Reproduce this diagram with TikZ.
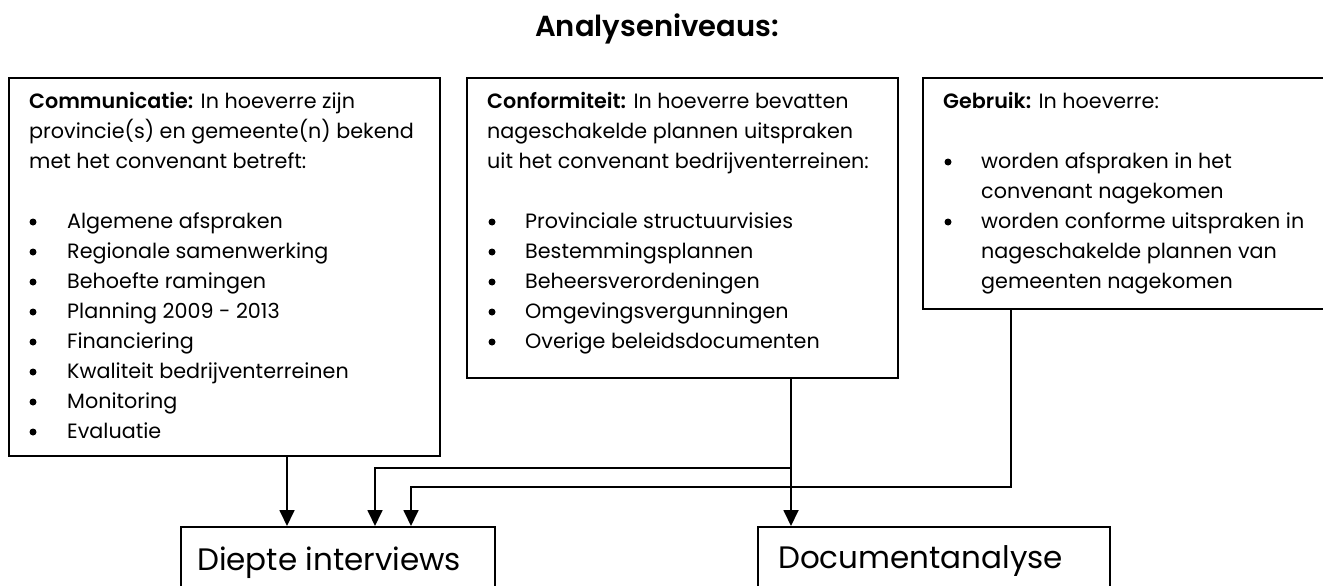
\documentclass[tikz,border=0pt]{standalone}
\usepackage{fontspec}
\setmainfont{Poppins}[BoldFont={Poppins SemiBold}]
\usetikzlibrary{arrows.meta}
\begin{document}
\begin{tikzpicture}[x=1pt,y=-1pt,
  box/.style={draw=black, line width=1.8pt, inner sep=0pt, anchor=north west, fill=white},
  txt/.style={anchor=base west, inner sep=0pt, font=\fontsize{20.7}{30}\selectfont},
  dot/.style={circle, fill=black, inner sep=0pt, minimum size=7pt},
  big/.style={anchor=base west, inner sep=0pt, font=\fontsize{31}{34}\selectfont},
  arr/.style={line width=1.8pt, -{Triangle[length=16pt,width=15pt]}},
  ln/.style={line width=1.8pt}]
\useasboundingbox (0,0) rectangle (1323,586);
% title
\node[anchor=base, inner sep=0pt, font=\fontsize{29}{32}\selectfont\bfseries] (title) at (657,37) {Analyseniveaus:};
% boxes
\node[box, minimum width=431pt, minimum height=378pt] (b1) at (8,77) {};
\node[box, minimum width=431pt, minimum height=300pt] (b2) at (466,77) {};
\node[box, minimum width=402pt, minimum height=231pt] (b3) at (922,77) {};
\node[box, minimum width=314pt, minimum height=70pt] (di) at (180,526) {};
\node[box, minimum width=352pt, minimum height=70pt] (doc) at (757,526) {};
% box 1 text
\node[txt] (b1l1) at (29,108) {\textbf{Communicatie:} In hoeverre zijn};
\node[txt] (b1l2) at (29,138) {provincie(s) en gemeente(n) bekend};
\node[txt] (b1l3) at (29,168) {met het convenant betreft:};
\foreach \t [count=\i from 0] in {Algemene afspraken, Regionale samenwerking, Behoefte ramingen, Planning 2009 - 2013, Financiering, Kwaliteit bedrijventerreinen, Monitoring, Evaluatie}{
  \node[dot] (b1d\i) at (33,222+30*\i) {};
  \node[txt] (b1i\i) at (67,228+30*\i) {\t};
}
% box 2 text
\node[txt] (b2l1) at (487,108) {\textbf{Conformiteit:} In hoeverre bevatten};
\node[txt] (b2l2) at (487,138) {nageschakelde plannen uitspraken};
\node[txt] (b2l3) at (487,168) {uit het convenant bedrijventerreinen:};
\foreach \t [count=\i from 0] in {Provinciale structuurvisies, Bestemmingsplannen, Beheersverordeningen, Omgevingsvergunningen, Overige beleidsdocumenten}{
  \node[dot] (b2d\i) at (492,222+30*\i) {};
  \node[txt] (b2i\i) at (525,228+30*\i) {\t};
}
% box 3 text
\node[txt] (b3l1) at (943,108) {\textbf{Gebruik:} In hoeverre:};
\node[dot] (b3d1) at (948,162) {};
\node[txt] (b3i1) at (981,168) {worden afspraken in het};
\node[txt] (b3i2) at (981,198) {convenant nagekomen};
\node[dot] (b3d2) at (948,222) {};
\node[txt] (b3i3) at (981,228) {worden conforme uitspraken in};
\node[txt] (b3i4) at (981,258) {nageschakelde plannen van};
\node[txt] (b3i5) at (981,288) {gemeenten nagekomen};
% bottom labels
\node[big] (dit) at (197,570) {Diepte interviews};
\node[big] (doct) at (778,568) {Documentanalyse};
% connectors
\coordinate (j1) at (791,468);
\coordinate (j2) at (411,487);
\draw[arr] ([xshift=279pt]b1.south west) -- ([xshift=107pt]di.north west);
\draw[arr] ([xshift=325pt]b2.south west) -- ([xshift=34pt]doc.north west);
\draw[arr] (j1) -| ([xshift=195pt]di.north west);
\draw[arr] ([xshift=89pt]b3.south west) |- (j2) -- (j2 |- di.north);
\end{tikzpicture}
\end{document}
